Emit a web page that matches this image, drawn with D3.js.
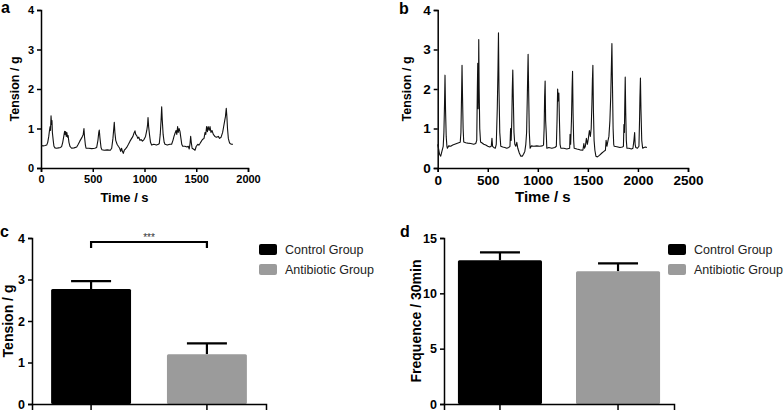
<!DOCTYPE html>
<html><head><meta charset="utf-8">
<script src="https://cdn.jsdelivr.net/npm/d3@7"></script>
<style>
body{margin:0;background:#fff;}
svg{display:block;font-family:Arial,"Liberation Sans",sans-serif;}
</style></head>
<body>
<script>
// ---- Panel a: control group tension trace ----
const aTime = [0,20,40,55,65,75,82,88,92,97,102,106,110,118,125,135,150,170,190,200,210,220,228,232,238,244,250,256,262,270,280,296,320,345,360,375,390,400,408,415,420,428,435,460,490,520,538,550,558,563,570,580,589,610,640,670,683,695,703,708,714,722,735,747,760,770,778,786,795,805,815,828,845,860,876,888,898,908,915,925,935,945,956,968,980,995,1010,1022,1030,1034,1040,1048,1058,1069,1090,1115,1135,1143,1152,1160,1166,1172,1180,1190,1198,1220,1245,1262,1275,1285,1295,1305,1312,1320,1326,1334,1343,1352,1360,1369,1390,1410,1423,1432,1440,1446,1452,1460,1472,1488,1500,1515,1525,1536,1550,1560,1575,1585,1592,1600,1608,1615,1625,1633,1642,1652,1665,1680,1695,1713,1725,1740,1755,1765,1775,1782,1790,1796,1802,1810,1820,1826,1840,1855];
const aTension = [0.57,0.56,0.57,0.58,0.65,0.8,0.95,1.05,0.95,1.32,1.1,1.2,0.9,0.7,0.55,0.51,0.5,0.51,0.52,0.55,0.65,0.8,0.93,0.85,0.92,0.8,0.9,0.78,0.82,0.65,0.55,0.5,0.51,0.53,0.6,0.68,0.75,0.8,0.85,1.0,0.8,0.6,0.5,0.5,0.49,0.5,0.52,0.7,0.9,0.96,0.75,0.52,0.46,0.45,0.46,0.45,0.5,0.75,1.0,1.16,0.9,0.7,0.6,0.55,0.5,0.42,0.5,0.43,0.37,0.45,0.48,0.52,0.6,0.68,0.75,0.8,0.88,0.94,0.85,0.82,0.75,0.78,0.7,0.72,0.68,0.72,0.8,0.95,1.1,1.28,1.05,0.85,0.65,0.58,0.6,0.58,0.6,0.62,0.85,1.2,1.55,1.2,0.85,0.65,0.6,0.58,0.6,0.6,0.7,0.8,0.88,0.95,0.85,1.05,0.9,1.0,0.92,0.75,0.6,0.55,0.55,0.53,0.55,0.48,0.62,0.8,0.65,0.5,0.48,0.45,0.55,0.6,0.58,0.62,0.68,0.72,0.75,0.9,0.85,1.05,0.92,1.05,0.95,1.05,0.9,0.95,0.85,0.8,0.78,0.8,0.75,0.78,0.9,1.05,1.2,1.3,1.51,1.3,1.0,0.75,0.65,0.62,0.6,0.6];
const aXTicks = [0,500,1000,1500,2000];
const aYTicks = [0,1,2,3,4];

// ---- Panel b: antibiotic group tension trace ----
const bTime = [0,8,18,30,42,55,62,68,73,78,85,92,97,110,130,150,170,190,210,225,232,238,243,248,254,260,280,300,330,360,380,390,396,400,404,408,410,414,420,428,440,460,480,500,520,535,542,548,560,575,585,595,602,607,612,620,630,650,670,690,710,722,728,734,740,745,750,755,762,770,780,790,800,815,830,845,857,870,880,888,895,900,903,908,915,923,935,960,990,1020,1045,1057,1063,1068,1073,1078,1084,1090,1110,1140,1170,1185,1192,1198,1203,1210,1216,1222,1230,1260,1290,1318,1322,1328,1336,1342,1347,1352,1358,1363,1390,1420,1450,1460,1466,1475,1485,1495,1505,1515,1525,1533,1540,1545,1550,1555,1562,1570,1580,1595,1615,1640,1660,1675,1682,1690,1700,1710,1720,1728,1735,1740,1745,1752,1758,1763,1790,1820,1845,1855,1860,1865,1868,1873,1878,1884,1890,1910,1935,1950,1960,1967,1972,1978,1995,2010,2016,2020,2025,2030,2038,2047,2060,2075,2090];
const bTension = [0.6,0.5,0.35,0.3,0.42,0.55,0.9,1.6,2.35,1.5,0.8,0.55,0.5,0.56,0.55,0.58,0.6,0.62,0.64,0.65,0.9,1.8,2.6,1.8,1.0,0.66,0.64,0.63,0.62,0.6,0.62,0.7,2.0,2.65,1.5,2.2,3.25,2.0,1.0,0.66,0.64,0.6,0.58,0.55,0.53,0.55,0.75,0.55,0.52,0.5,0.6,1.5,2.5,3.42,2.0,0.9,0.55,0.53,0.52,0.5,0.52,0.55,1.0,0.7,1.2,2.0,2.48,1.8,0.9,0.6,0.55,0.65,0.5,0.38,0.3,0.3,0.35,0.42,0.6,0.9,1.8,2.5,2.88,2.0,0.9,0.5,0.56,0.55,0.56,0.55,0.56,0.58,1.0,1.8,2.2,1.2,0.9,0.5,0.52,0.5,0.52,0.55,1.2,2.0,1.7,1.9,1.2,0.6,0.5,0.5,0.48,0.5,0.85,0.6,1.2,2.0,2.45,1.4,0.7,0.5,0.48,0.46,0.45,0.62,0.5,0.55,0.75,0.6,0.75,0.95,0.8,1.0,1.6,2.2,2.6,1.5,0.7,0.45,0.3,0.28,0.32,0.38,0.42,0.45,0.7,0.55,0.68,0.8,1.2,1.8,2.6,3.15,2.2,1.0,0.6,0.55,0.54,0.52,0.53,0.55,1.1,0.9,1.5,2.3,1.4,0.7,0.5,0.5,0.48,0.5,0.7,0.9,0.6,0.52,0.5,0.55,1.2,1.8,2.28,1.5,0.7,0.5,0.52,0.53,0.52];
const bXTicks = [0,500,1000,1500,2000,2500];
const bYTicks = [0,1,2,3,4];

// ---- Panels c and d: group means ----
const groups = ["Control Group","Antibiotic Group"];
const groupColors = ["#000000","#9b9b9b"];
const cTension = [2.77,1.2];
const cTensionErr = [0.19,0.26];
const cYTicks = [0,1,2,3,4];
const cSignif = "***";
const dFreq = [13.0,12.0];
const dFreqErr = [0.7,0.7];
const dYTicks = [0,5,10,15];

const W=784,H=410;
const svg=d3.select("body").append("svg").attr("width",W).attr("height",H);

function styleAxis(g,fs){
  g.selectAll("path,line").attr("stroke","#000").attr("stroke-width",1.5);
  g.selectAll("text").attr("font-size",fs).attr("font-weight","bold").attr("fill","#000")
   .attr("font-family","Arial,'Liberation Sans',sans-serif");
}

function tracePanel(o){
  const x=d3.scaleLinear().domain(o.xd).range(o.xr);
  const y=d3.scaleLinear().domain([0,4]).range(o.yr);
  const gx=svg.append("g").attr("transform",`translate(0,${o.yr[0]})`)
    .call(d3.axisBottom(x).tickValues(o.xt).tickFormat(d3.format("d")).tickSizeOuter(0).tickSize(4).tickPadding(3));
  styleAxis(gx,o.fs);
  const gy=svg.append("g").attr("transform",`translate(${o.xr[0]},0)`)
    .call(d3.axisLeft(y).tickValues(o.yt).tickFormat(d3.format("d")).tickSizeOuter(0).tickSize(4).tickPadding(3));
  styleAxis(gy,o.fs);
  const line=d3.line().x(d=>x(d[0])).y(d=>y(d[1]));
  svg.append("path").datum(o.t.map((t,i)=>[t,o.v[i]])).attr("d",line)
    .attr("fill","none").attr("stroke","#111").attr("stroke-width",1.1).attr("stroke-linejoin","round");
  svg.append("text").attr("x",(o.xr[0]+o.xr[1])/2 + o.xtDx).attr("y",o.yr[0]+o.xtY)
    .attr("text-anchor","middle").attr("font-size",o.tfs).attr("font-weight","bold").text("Time / s");
  svg.append("text").attr("transform",`translate(${o.ytX},${(o.yr[0]+o.yr[1])/2}) rotate(-90)`)
    .attr("text-anchor","middle").attr("font-size",12.5).attr("font-weight","bold").text("Tension / g");
  svg.append("text").attr("x",o.lab[0]).attr("y",o.lab[1]).attr("font-size",16).attr("font-weight","bold").text(o.label);
}

tracePanel({xd:[0,2000],xr:[41,248],yr:[168,10],xt:aXTicks,yt:aYTicks,t:aTime,v:aTension,fs:11,tfs:13,xtY:34,xtDx:-20,ytX:19,lab:[1,13],label:"a"});
tracePanel({xd:[0,2500],xr:[437.7,688],yr:[168,10],xt:bXTicks,yt:bYTicks,t:bTime,v:bTension,fs:13.5,tfs:15,xtY:34,xtDx:-20,ytX:411,lab:[399,14],label:"b"});

function barPanel(o){
  const x=d3.scaleBand().domain(groups).range(o.xr).paddingInner(o.pi).paddingOuter(o.po);
  const y=d3.scaleLinear().domain(o.yd).range(o.yr);
  const gx=svg.append("g").attr("transform",`translate(0,${o.yr[0]})`)
    .call(d3.axisBottom(x).tickSizeOuter(0).tickSize(6).tickFormat(""));
  styleAxis(gx,12);
  const gy=svg.append("g").attr("transform",`translate(${o.xr[0]},0)`)
    .call(d3.axisLeft(y).tickValues(o.yt).tickFormat(d3.format("d")).tickSizeOuter(0).tickSize(4).tickPadding(3));
  styleAxis(gy,12.5);
  groups.forEach((g,i)=>{
    const cx=x(g)+x.bandwidth()/2;
    svg.append("line").attr("x1",cx).attr("x2",cx).attr("y1",y(o.v[i])).attr("y2",y(o.v[i]+o.e[i])).attr("stroke","#000").attr("stroke-width",2.2);
    svg.append("line").attr("x1",cx-20).attr("x2",cx+20).attr("y1",y(o.v[i]+o.e[i])).attr("y2",y(o.v[i]+o.e[i])).attr("stroke","#000").attr("stroke-width",2.2);
  });
  svg.selectAll(null).data(groups).enter().append("rect")
    .attr("x",d=>x(d)).attr("width",x.bandwidth())
    .attr("y",(d,i)=>y(o.v[i])).attr("height",(d,i)=>y(0)-y(o.v[i]))
    .attr("fill",(d,i)=>groupColors[i]).attr("rx",1.5);
  gx.raise();
  svg.append("text").attr("transform",`translate(${o.ytX},${(o.yr[0]+o.yr[1])/2}) rotate(-90)`)
    .attr("text-anchor","middle").attr("font-size",14).attr("font-weight","bold").text(o.ytitle);
  svg.append("text").attr("x",o.lab[0]).attr("y",o.lab[1]).attr("font-size",16).attr("font-weight","bold").text(o.label);
  groups.forEach((g,i)=>{
    svg.append("rect").attr("x",o.lx).attr("y",244+i*20).attr("width",18).attr("height",11).attr("rx",2).attr("fill",groupColors[i]);
    svg.append("text").attr("x",o.lx+26).attr("y",254+i*20).attr("font-size",12.5).attr("fill","#222").text(g);
  });
  if(o.sig){
    const x1=x(groups[0])+x.bandwidth()/2, x2=x(groups[1])+x.bandwidth()/2, yb=242;
    svg.append("path").attr("d",`M${x1},${yb+6}V${yb}H${x2}V${yb+6}`).attr("fill","none").attr("stroke","#000").attr("stroke-width",2.2);
    svg.append("text").attr("x",(x1+x2)/2).attr("y",yb-1).attr("text-anchor","middle").attr("font-size",10).attr("fill","#333").text(o.sig);
  }
}

barPanel({xr:[32,266],pi:0.31,po:0.165,yd:[0,4],yr:[404,238],yt:cYTicks,v:cTension,e:cTensionErr,ytitle:"Tension / g",ytX:13,lab:[0,237],label:"c",lx:259,sig:cSignif});
barPanel({xr:[444,674],pi:0.288,po:0.118,yd:[0,15],yr:[404,238],yt:dYTicks,v:dFreq,e:dFreqErr,ytitle:"Frequence / 30min",ytX:421,lab:[400,237],label:"d",lx:668});
</script>
</body></html>
